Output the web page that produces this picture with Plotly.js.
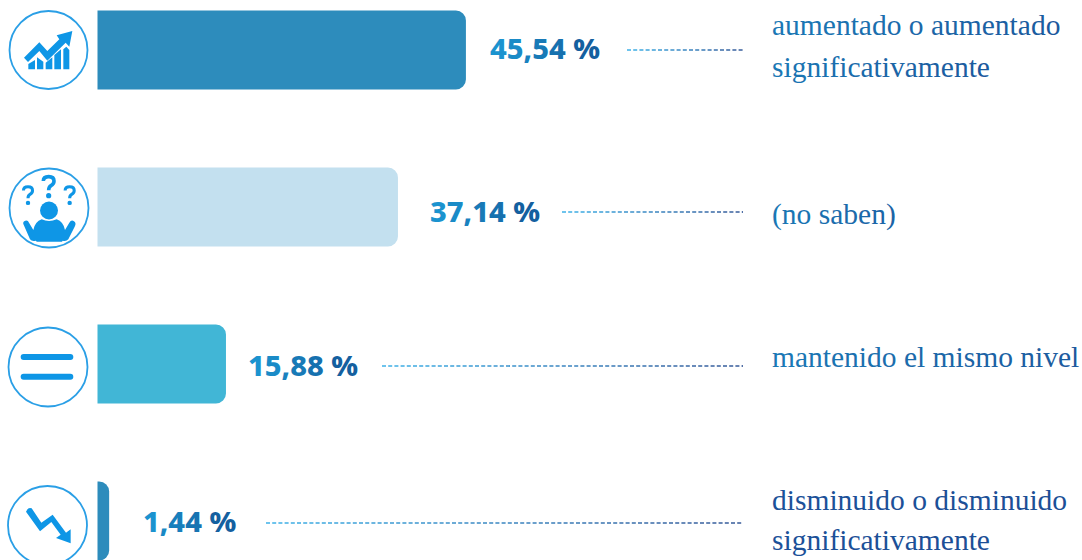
<!DOCTYPE html>
<html><head><meta charset="utf-8">
<script src="https://cdn.plot.ly/plotly-3.0.1.min.js"></script>
<style>html,body{margin:0;padding:0;background:#fff;overflow:hidden}</style>
</head><body><div id="chart" style="width:1082px;height:560px"></div>
<script>
const categories = ["aumentado o aumentado|significativamente","(no saben)","mantenido el mismo nivel","disminuido o disminuido|significativamente"];
const values = [45.54, 37.14, 15.88, 1.44];
const barColors = ["#2d8cbc","#c3e0ef","#41b6d6","#2d8cbc"];

const W=1082,H=560, X0=97.5, PXU=8.09, ROW0=50, ROWH=157;
const px=x=>x/W, py=y=>1-y/H;
function mix(a,b,t){const p=s=>[1,3,5].map(i=>parseInt(s.substr(i,2),16));const A=p(a),B=p(b);
  return 'rgb('+A.map((v,i)=>Math.round(v+(B[i]-v)*t)).join(',')+')';}
function grad(text,a,b){const n=text.length;return text.split('').map((c,i)=>
  '<span style="color:'+mix(a,b,n>1?i/(n-1):0)+'">'+c+'</span>').join('');}

function P(d){return d.replace(/(-?[\d.]+)[ ,](-?[\d.]+)/g,(m,x,y)=>px(+x).toFixed(5)+','+py(+y).toFixed(5));}
const z=(d,oy)=>d.replace(/(-?[\d.]+),(-?[\d.]+)/g,(m,x,y)=>(x/3).toFixed(2)+','+(oy+y/3).toFixed(2));
const BLUE='#0e96e6', RING='#2a9fe6';
const shapes=[];
function ring(cx,cy,r){shapes.push({type:'circle',xref:'paper',yref:'paper',x0:px(cx-r),x1:px(cx+r),y0:py(cy+r),y1:py(cy-r),line:{color:RING,width:1.8},fillcolor:'#fff'});}
function fill(d,oy){shapes.push({type:'path',xref:'paper',yref:'paper',path:P(z(d,oy)),fillcolor:BLUE,line:{width:0}});}
function stroke(d,oy,w){shapes.push({type:'path',xref:'paper',yref:'paper',path:P(z(d,oy)),line:{color:BLUE,width:w}});}
function dot(cx,cy,r){shapes.push({type:'circle',xref:'paper',yref:'paper',x0:px(cx-r),x1:px(cx+r),y0:py(cy+r),y1:py(cy-r),fillcolor:BLUE,line:{width:0}});}

ring(48.5,50,39);
['M85,208 L85,192 L105,180 L105,208 Z','M111,208 L111,172 L130,185 L130,208 Z','M137,208 L137,188 L157,172 L157,208 Z','M163,208 L163,165 L183,148 L183,208 Z','M190,208 L190,148 L199,140 L208,150 L208,208 Z'].forEach(d=>fill(d,0));
fill('M72,173 L118,127 L142,153 L178,118 L170,106 L217,93 L208,140 L197,128 L142,182 L118,153 L84,186 Z',0);

ring(49,208,39.5);
function qmark(cx,top,s){const q=(x,y)=>(cx+x*s)+','+(top+y*s);
  stroke('M'+q(-16,18)+' Q'+q(-16,5)+' '+q(0,5)+' Q'+q(16,5)+' '+q(16,18)+' Q'+q(16,27)+' '+q(7,32)+' Q'+q(0,36)+' '+q(0,46),0,3.6*s);
  dot(cx/3,(top+62*s)/3,2.6*s);}
qmark(146,525,1); qmark(84,556,.85); qmark(209,556,.85);
dot(49,210.5,9);
fill('M70,672 Q68,665 76,662 Q84,660 87,668 L100,690 Q105,665 125,658 Q147,668 170,658 Q190,665 195,690 L208,668 Q214,658 222,664 Q230,670 224,680 L205,718 Q198,726 188,722 L186,725 L110,725 L108,722 Q96,726 90,718 Z',0);

ring(48,367,39.5);
const pill=(y)=>'M71,'+(y-9)+' L211,'+(y-9)+' Q220,'+(y-9)+' 220,'+y+' Q220,'+(y+9)+' 211,'+(y+9)+' L71,'+(y+9)+' Q62,'+(y+9)+' 62,'+y+' Q62,'+(y-9)+' 71,'+(y-9)+' Z';
fill(pill(231),280); fill(pill(290),280);

ring(47.5,525.5,39.5);
fill('M78,695 Q84,680 95,685 L124,728 L158,704 L198,758 L212,748 L212,790 L168,774 L182,764 L154,726 L120,754 Z',280);

const leaderStart=[627,562,382,266], leaderY=[50,212,366,523], leaderEnd=743;
leaderStart.forEach((s,i)=>{
  for(let x=s;x<leaderEnd;x+=6.2){
    const e=Math.min(x+4,leaderEnd),t=(x-s)/(leaderEnd-s);
    shapes.push({type:'line',xref:'paper',yref:'paper',x0:px(x),x1:px(e),y0:py(leaderY[i]),y1:py(leaderY[i]),
      line:{color:mix('#1fa5e4','#173f88',t),width:1.3}});
  }
});

const annotations=[];
const labelGap=[24,32,22,34], labelY=[47.5,210.5,364.5,520.5];
values.forEach((v,i)=>{
  annotations.push({x:v,xref:'x',y:py(labelY[i]),yref:'paper',xshift:labelGap[i],xanchor:'left',yanchor:'middle',showarrow:false,
    borderpad:0,borderwidth:0,text:grad(v.toFixed(2).replace('.',',')+' %','#1b93cf','#14609f'),
    font:{family:'"Noto Sans",sans-serif',size:29,weight:800,color:'#1b7ab8'}});
});
const textBase=[[35,76],[224],[366],[509,549]];
const textCol=[['#1a78b5','#1b5a9e'],['#1a78b5','#1b64a6'],['#1a78b5','#1c5a9e'],['#1c5199','#1c4f96']];
categories.forEach((c,i)=>{
  c.split('|').forEach((line,j)=>{
    annotations.push({x:px(771.5),xref:'paper',y:py(textBase[i][j]-9.5),yref:'paper',xanchor:'left',yanchor:'middle',showarrow:false,
      borderpad:0,borderwidth:0,align:'left',text:grad(line,textCol[i][0],textCol[i][1]),
      font:{family:'"Liberation Serif",serif',size:29.5,color:'#1a6aa8'}});
  });
});

Plotly.newPlot('chart',[{type:'bar',orientation:'h',y:categories,x:values,width:79/ROWH,
  marker:{color:barColors,line:{width:0}},hoverinfo:'skip'}],{
  width:W,height:H,margin:{l:0,r:0,t:0,b:0},paper_bgcolor:'#fff',plot_bgcolor:'#fff',showlegend:false,
  barcornerradius:10,
  xaxis:{visible:false,range:[-X0/PXU,(W-X0)/PXU],fixedrange:true},
  yaxis:{visible:false,type:'category',categoryorder:'array',categoryarray:categories,
    range:[(H-ROW0)/ROWH,-ROW0/ROWH],fixedrange:true},
  shapes,annotations
},{displayModeBar:false,staticPlot:true});
</script></body></html>
